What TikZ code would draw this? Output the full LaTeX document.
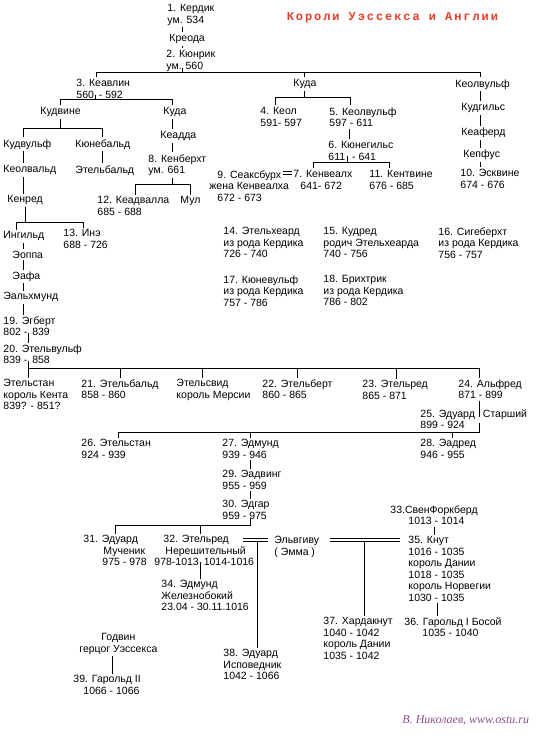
\documentclass[tikz,border=0pt]{standalone}
\usepackage{fontspec}
\setmainfont{Liberation Sans}
\newfontfamily\titlefont[LetterSpace=16]{Liberation Mono}
\newfontfamily\signfont{Liberation Serif}
\definecolor{titlered}{RGB}{230,60,40}
\definecolor{signviolet}{RGB}{140,75,140}
\tikzset{
  person/.style={anchor=north west,yshift=8pt,inner sep=0pt,outer ysep=2pt,align=left,
    font=\fontsize{10.5}{11.5}\selectfont},
  wed/.style={double,double distance=2.5pt,line width=0.8pt}
}

\begin{document}
\begin{tikzpicture}[x=1pt,y=-1pt,line width=0.9pt]
    \useasboundingbox (0,0) rectangle (544,738);
    \node[anchor=base west,font=\titlefont\fontsize{12}{14}\bfseries,text=titlered] (title) at (283,21) {Короли Уэссекса и Англии};
    % Kerdik's line
    \node[person] (k_1) at (167,10.5) {1. Кердик\\ум. 534};
    \node[person] (kreoda) at (169,40.5) {Креода};
    \node[person] (k_2) at (166,56.5) {2. Кюнрик\\ум. 560};
    \node[person] (k_3) at (76,85.5) {3. Кеавлин\\560\hspace{2pt} - 592};
    \node[person] (cuthaA) at (293,85.5) {Куда};
    \node[person] (ceolwulf) at (455,85.5) {Кеолвульф};
    \node[person] (cuthwine) at (40,113.5) {Кудвине};
    \node[person] (cuthaB) at (163,113.5) {Куда};
    \node[person] (k_4) at (260,113.5) {4. Кеол\\591- 597};
    \node[person] (k_5) at (329,113.5) {5. Кеолвульф\\597 - 611};
    \node[person] (cuthgils) at (461,109.5) {Кудгильс};
    \node[person] (cuthwulf) at (3,145.5) {Кудвульф};
    \node[person] (cynebald) at (75,145.5) {Кюнебальд};
    \node[person] (ceadda) at (160,137.5) {Кеадда};
    \node[person] (k_6) at (328,147.5) {6. Кюнегильс\\611\hspace{4pt} - 641};
    \node[person] (ceaferd) at (461,134) {Кеаферд};
    \node[person] (cenfus) at (463,156) {Кепфус};
    \node[person] (ceolwald) at (3,171.5) {Кеолвальд};
    \node[person] (aethelbaldA) at (75,171.5) {Этельбальд};
    \node[person] (k_8) at (148,160.5) {8. Кенберхт\\ум. 661};
    \node[person] (k_9) at (209,176.5) {\hspace*{8pt}9. Сеаксбурх\\жена Кенвеалха\\\hspace*{8pt}672 - 673};
    \node[person] (k_7) at (293,176.5) {7. Кенвеалх\\\hspace*{7pt}641- 672};
    \node[person] (k_11) at (369,176.5) {11. Кентвине\\676 - 685};
    \node[person] (k_10) at (460,175.5) {10. Эсквине\\674 - 676};
    \node[person] (coenred) at (7,201.5) {Кенред};
    \node[person] (k_12) at (97,202.5) {12. Кеадвалла\\685 - 688};
    \node[person] (mul) at (180,202.5) {Мул};
    \node[person] (k_14) at (223,233.5) {14. Этельхеард\\из рода Кердика\\726 - 740};
    \node[person] (k_15) at (323,233.5) {15. Кудред\\родич Этельхеарда\\740 - 756};
    \node[person] (k_16) at (438,233.5) {16. Сигеберхт\\из рода Кердика\\756 - 757};
    \node[person] (ingild) at (3,237.5) {Ингильд};
    \node[person] (k_13) at (63,235.5) {13. Инэ\\688 - 726};
    \node[person] (eoppa) at (12,257) {Эоппа};
    \node[person] (eafa) at (12,277.5) {Эафа};
    \node[person] (ealhmund) at (3,298.5) {Эальхмунд};
    \node[person] (k_17) at (223,281.5) {17. Кюневульф\\из рода Кердика\\757 - 786};
    \node[person] (k_18) at (323,281.5) {18. Брихтрик\\из рода Кердика\\786 - 802};
    \node[person] (k_19) at (3,322.5) {19. Эгберт\\802 -\hspace{2pt} 839};
    \node[person] (k_20) at (3,350.5) {20. Этельвульф\\839 -\hspace{2pt} 858};
    % sons of Aethelwulf
    \node[person] (athelstan) at (3,385.5) {Этельстан\\король Кента\\839? - 851?};
    \node[person] (k_21) at (81,385.5) {21. Этельбальд\\858 - 860};
    \node[person] (aethelswith) at (176,385.5) {Этельсвид\\король Мерсии};
    \node[person] (k_22) at (262,385.5) {22. Этельберт\\860 - 865};
    \node[person] (k_23) at (362,386.5) {23. Этельред\\865 - 871};
    \node[person] (k_24) at (458,385.5) {24. Альфред\\871 - 899};
    \node[person] (k_25) at (420,415.5) {25. Эдуард\hspace{8pt}Старший\\899 - 924};
    \node[person] (k_26) at (81,445.5) {26. Этельстан\\924 - 939};
    \node[person] (k_27) at (222,445.5) {27. Эдмунд\\939 - 946};
    \node[person] (k_28) at (420,445.5) {28. Эадред\\946 - 955};
    \node[person] (k_29) at (222,476.5) {29. Эадвинг\\955 - 959};
    \node[person] (k_30) at (222,506.5) {30. Эдгар\\959 - 975};
    \node[person] (k_33) at (390,511.5) {33.СвенФоркберд\\\hspace*{18pt}1013 - 1014};
    \node[person] (k_31) at (83,541.5) {31. Эдуард\\\hspace*{20pt}Мученик\\\hspace*{19pt}975 - 978};
    \node[person] (k_32) at (154,541.5) {\hspace*{9pt}32. Этельред\\\hspace*{11pt}Нерешительный\\978-1013\hspace{5pt}1014-1016};
    \node[person] (emma) at (274,542.5) {Эльвгиву\\( Эмма )};
    \node[person] (k_35) at (408,542.5) {35. Кнут\\1016 - 1035\\король Дании\\1018 - 1035\\король Норвегии\\1030 - 1035};
    \node[person] (k_34) at (161,586.5) {34. Эдмунд\\Железнобокий\\23.04 - 30.11.1016};
    \node[person] (k_36) at (404,623.5) {36. Гарольд I Босой\\\hspace*{18pt}1035 - 1040};
    \node[person] (k_37) at (323,623.5) {37. Хардакнут\\1040 - 1042\\король Дании\\1035 - 1042};
    \node[person,align=center] (godwin) at (79,639.5) {Годвин\\герцог Уэссекса};
    \node[person] (k_38) at (223,655.5) {38. Эдуард\\Исповедник\\1042 - 1066};
    \node[person] (k_39) at (73,681.5) {39. Гарольд II\\\hspace*{10pt}1066 - 1066};
    \node[anchor=base west,inner sep=0pt,font=\signfont\itshape\fontsize{12}{14}\selectfont,text=signviolet] (sign) at (402,723) {В. Николаев, www.ostu.ru};

    % top of the tree
    \draw (k_1.south -| 182,0) -- (kreoda.north -| 182,0);
    \draw (kreoda.south -| 182,0) -- (k_2.north -| 182,0);
    \draw (k_2.south -| 182,0) ++(0,-6) -- (182,72);
    \draw (k_3.north -| 96,0) |- (480,72) -- (ceolwulf.north -| 480,0);
    \draw (cuthaA.north -| 304,0) -- (304,72);
    % Ceawlin
    \draw (k_3.south -| 95.5,0) ++(0,-5) -- (95.5,99);
    \draw (cuthwine.north -| 60,0) |- (172,99) -- (cuthaB.north -| 172,0);
    \draw (cuthwine.south -| 60,0) -- (60,128);
    \draw (cuthwulf.north -| 23,0) |- (102,128) -- (cynebald.north -| 102,0);
    \draw (cuthwulf.south -| 23,0) -- (ceolwald.north -| 23,0);
    \draw (cynebald.south -| 102,0) -- (aethelbaldA.north -| 102,0);
    \draw (ceolwald.south -| 23,0) -- (coenred.north -| 23,0);
    \draw (coenred.south -| 25,0) -- (25,222);
    \draw (ingild.north -| 16,0) |- (83,222) -- (k_13.north -| 83,0);
    \draw (ingild.south -| 23,0) -- (eoppa.north -| 23,0);
    \draw (eoppa.south -| 23,0) -- (eafa.north -| 23,0);
    \draw (eafa.south -| 23,0) -- (ealhmund.north -| 23,0);
    \draw (ealhmund.south -| 23,0) -- (k_19.north -| 23,0);
    \draw (k_19.south -| 28.5,0) ++(0,-5) -- (k_20.north -| 28.5,0);
    % Cutha
    \draw (cuthaA.south -| 304,0) -- (304,97);
    \draw (k_4.north -| 275,0) |- (350,97) -- (k_5.north -| 350,0);
    \draw (k_5.south -| 349,0) -- (k_6.north -| 349,0);
    \draw (k_6.south -| 347,0) ++(0,-6) -- (347,162);
    \draw (k_7.north -| 313,0) |- (389,162) -- (k_11.north -| 389,0);
    \draw (283,171) -- (292,171) (283,174.5) -- (292,174.5);
    % Ceolwulf
    \draw (ceolwulf.south -| 480,0) -- (cuthgils.north -| 480,0);
    \draw (cuthgils.south -| 480,0) -- (ceaferd.north -| 480,0);
    \draw (ceaferd.south -| 480,0) -- (cenfus.north -| 480,0);
    \draw (cenfus.south -| 480,0) -- (k_10.north -| 480,0);
    \draw (cuthaB.south -| 172,0) -- (ceadda.north -| 172,0);
    \draw (ceadda.south -| 172,0) -- (k_8.north -| 172,0);
    \draw (k_8.south -| 172,0) -- (172,184);
    \draw (k_12.north -| 135,0) |- (190,184) -- (mul.north -| 190,0);
    % Aethelwulf and Alfred
    \draw (k_20.south -| 28.5,0) ++(0,-5) -- (athelstan.north -| 28.5,0);
    \draw (28.5,368) -| (k_24.north -| 479,0);
    \foreach \n/\x in {k_21/120,aethelswith/202,k_22/297,k_23/396}
      \draw (\n.north -| \x,0) -- (\x,368);
    \draw (k_24.south -| 479,0) -- (479,417);
    \draw (k_25.south -| 479,0) ++(0,-8) -- (479,432) -| (k_26.north -| 118,0);
    \draw (k_27.north -| 250,0) -- (250,432);
    \draw (k_28.north -| 452,0) -- (452,432);
    \draw (k_27.south -| 250,0) -- (k_29.north -| 250,0);
    \draw (k_29.south -| 250,0) -- (k_30.north -| 250,0);
    \draw (k_30.south -| 250,0) ++(0,-3) -- (250,525) -| (k_31.north -| 115,0);
    \draw (k_32.north -| 200,0) -- (200,525);
    \draw (k_32.south -| 200,0) ++(0,-6) -- (k_34.north -| 200,0);
    % Emma
    \draw[wed] (243,539.75) -- (268,539.75);
    \draw[wed] (330,539.75) -- (400,539.75);
    \draw (257,541) -- (k_38.north -| 257,0);
    \draw (364,541) -- (k_37.north -| 364,0);
    \draw (k_33.south -| 434,0) -- (k_35.north -| 434,0);
    \draw (k_35.south -| 437,0) -- (k_36.north -| 437,0);
    \draw (godwin.south -| 112,0) -- (k_39.north -| 112,0);
\end{tikzpicture}
\end{document}
